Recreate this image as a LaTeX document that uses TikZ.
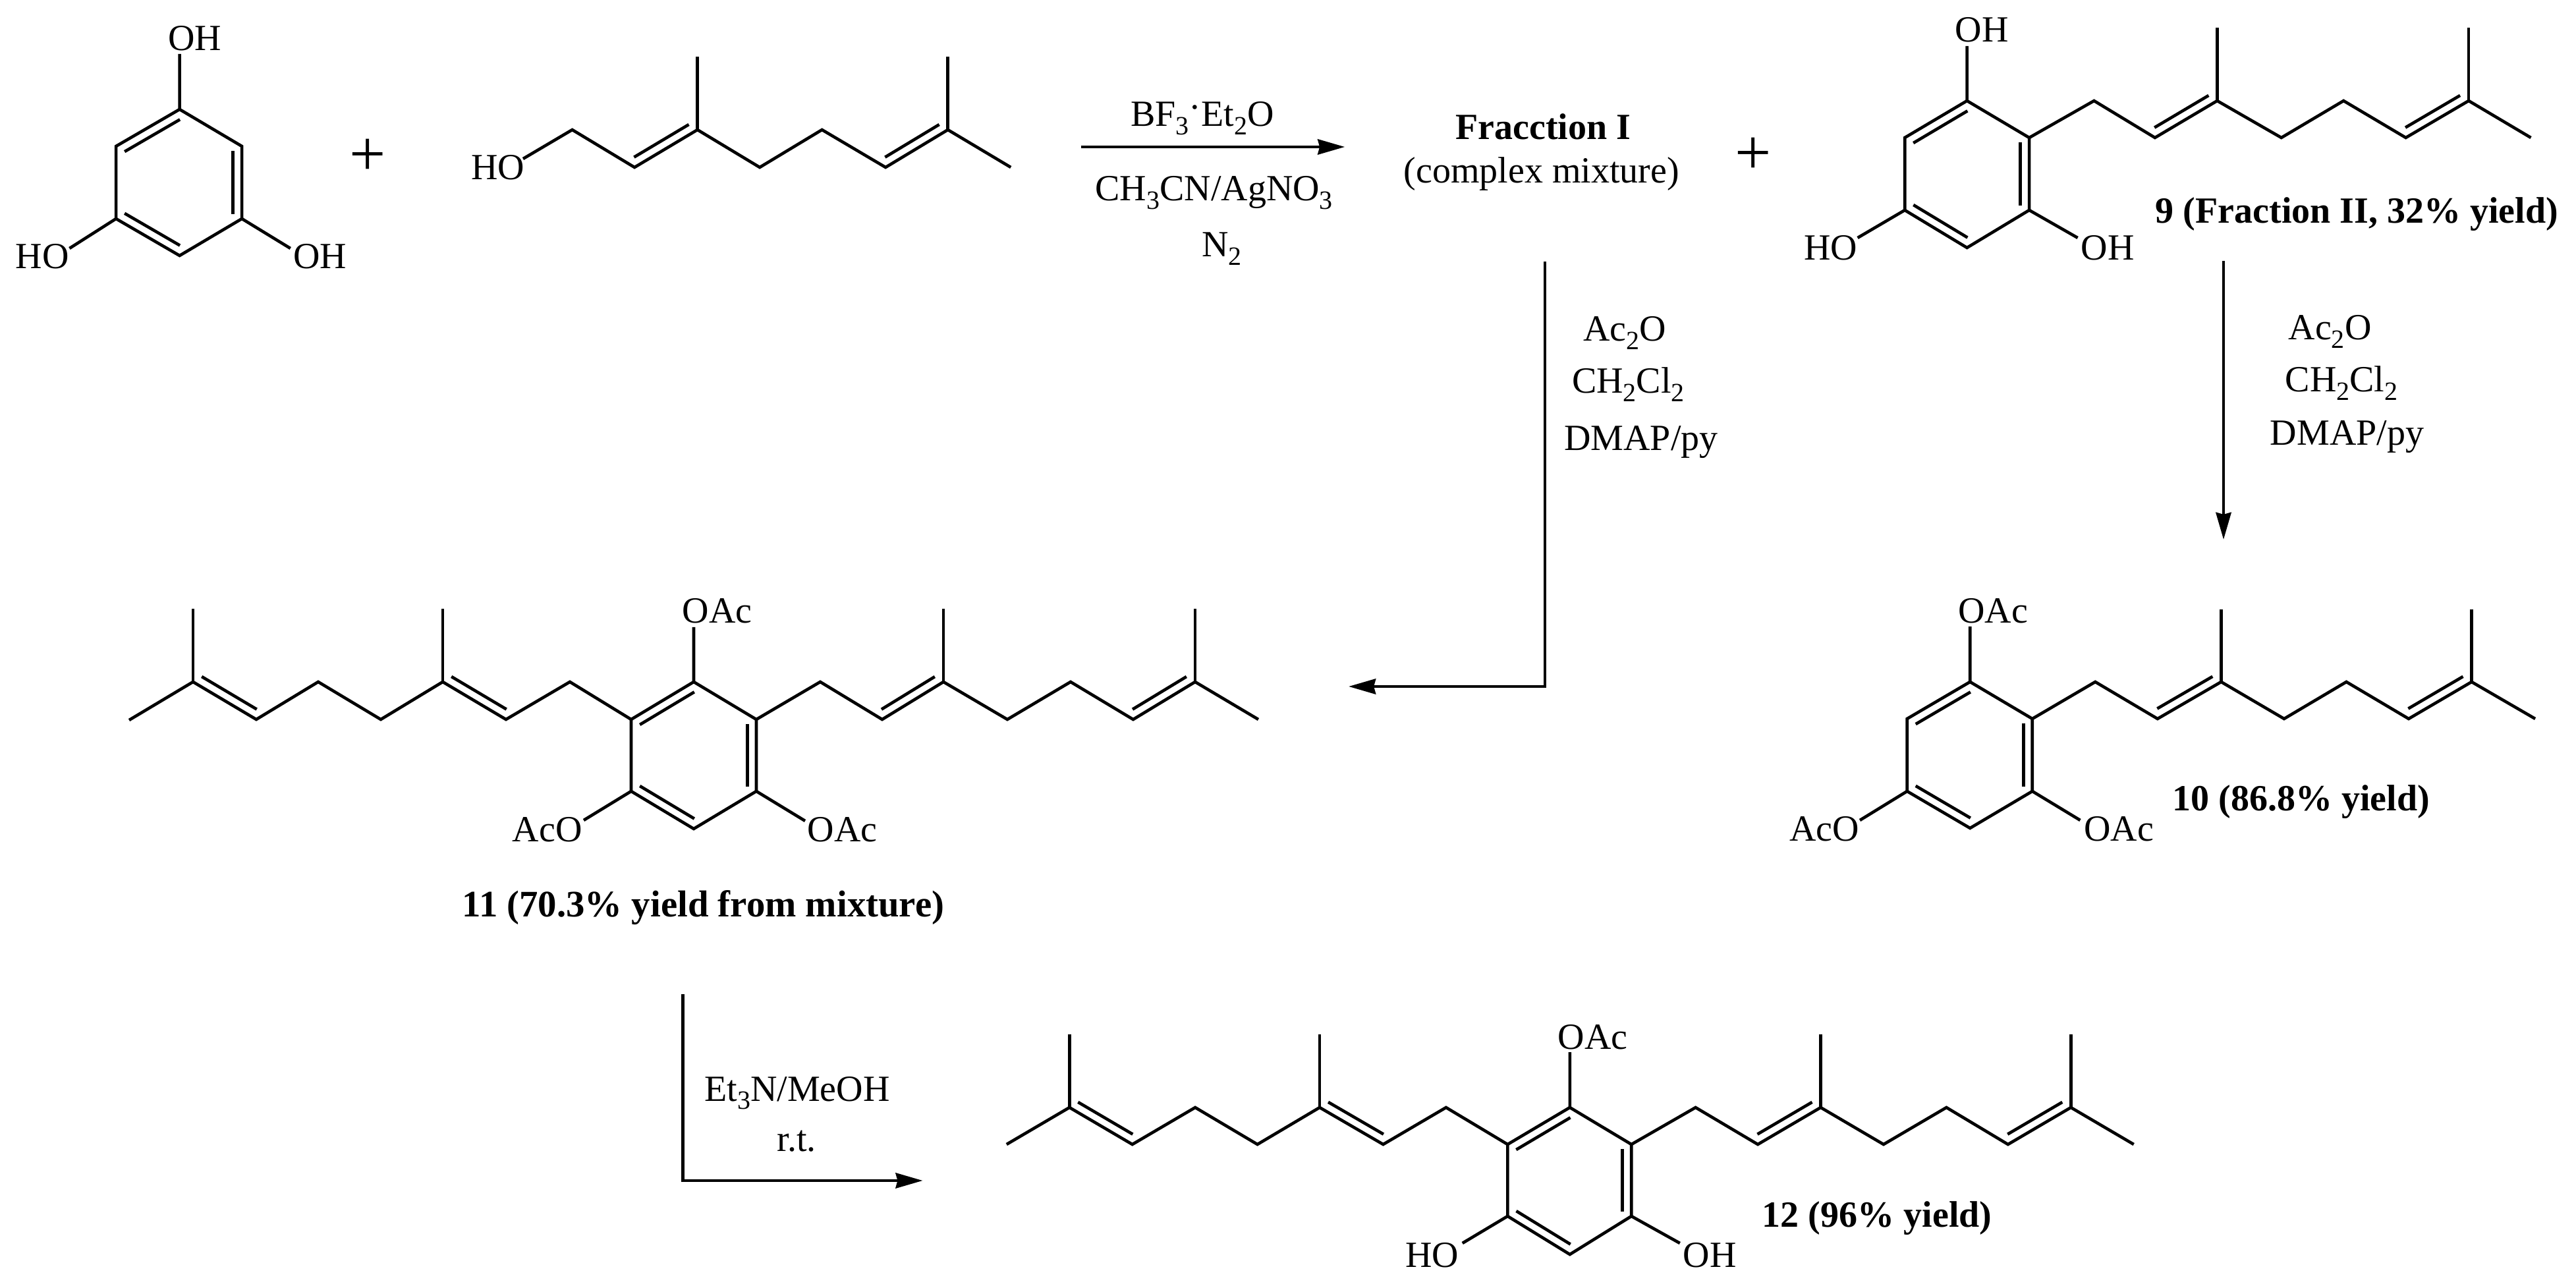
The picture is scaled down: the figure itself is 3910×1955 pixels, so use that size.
\documentclass[tikz,border=0pt]{standalone}
\usepackage{fontspec}
\setmainfont{Liberation Serif}
\usetikzlibrary{calc,arrows.meta}
\newcommand\sbs[1]{\raisebox{-.22em}{\fontsize{10}{10}\selectfont #1}}
\tikzset{
  x=.25pt,y=-.25pt,
  bond/.style={line width=1.15pt,line join=miter,miter limit=10,line cap=butt},
  rxn/.style={line width=1.2pt,-{Stealth[length=10.25pt,width=5.75pt,inset=.7pt]}},
  txt/.style={anchor=base west,inner sep=0pt,font=\fontsize{14}{16}\selectfont},
  btxt/.style={txt,font=\fontsize{14}{16}\selectfont\bfseries},
  plusn/.style={inner sep=0pt,font=\fontsize{24.5}{26}\selectfont}
}
% double-bond inner line: from, to, side angle
\newcommand\dblin[3]{\draw[bond] ($(#1)!0.065!(#2)!3.4pt!#3:(#2)$) -- ($(#2)!0.065!(#1)!3.4pt!-#3:(#1)$);}
\begin{document}
\begin{tikzpicture}
\fill[white] (0,0) rectangle (3910,1955);
\useasboundingbox (0,0) rectangle (3910,1955);

\begin{scope}[xscale=.995]
% ---------- phloroglucinol
\path (274,166) coordinate (pT) (177,222) coordinate (pUL) (369,222) coordinate (pUR)
      (177,332) coordinate (pLL) (369,332) coordinate (pLR) (274,388) coordinate (pB)
      (274,82) coordinate (pO1) (106,377) coordinate (pO2) (443,377) coordinate (pO3);
\draw[bond] (pT)--(pUR)--(pLR)--(pB)--(pLL)--(pUL)--cycle;
\draw[bond] (pT)--(pO1) (pLL)--(pO2) (pLR)--(pO3);
\dblin{pUL}{pT}{-90}\dblin{pUR}{pLR}{-90}\dblin{pB}{pLL}{-90}
\node[txt] (pOH1) at (256,77) {OH};
\node[txt] (pHO2) at (23,408) {HO};
\node[txt] (pOH3) at (447,408) {OH};
\node[plusn] (plusA) at (561,239) {+};

% ---------- geraniol
\path (798,241) coordinate (g0) (873,197) coordinate (g1) (968,254) coordinate (g2)
      (1064,197) coordinate (g3) (1159,254) coordinate (g4) (1254,197) coordinate (g5)
      (1351,254) coordinate (g6) (1446,197) coordinate (g7) (1542,254) coordinate (g8)
      (1064,86) coordinate (gm1) (1446,86) coordinate (gm2);
\draw[bond] (g0)--(g1)--(g2)--(g3)--(g4)--(g5)--(g6)--(g7)--(g8);
\draw[bond] (g3)--(gm1) (g7)--(gm2);
\dblin{g2}{g3}{90}\dblin{g6}{g7}{90}
\node[txt] (gHO) at (718,273) {HO};
\end{scope}

\begin{scope}[shift={(9.44,0)},xscale=.9941]
% ---------- first reaction
\coordinate (r1a) at (1641,223);
\coordinate (r1b) at (2044,223);
\draw[rxn] (r1a)--(r1b);
\node[txt] (r1t1) at (1716,192) {BF\sbs{3}\raisebox{.18em}{·}Et\sbs{2}O};
\node[txt] (r1t2) at (1662,305) {CH\sbs{3}CN/AgNO\sbs{3}};
\node[txt] (r1t3) at (1825,390) {N\sbs{2}};
\node[btxt] (frI) at (2212,212) {Fracction I};
\node[txt] (frIb) at (2133,278) {(complex mixture)};
\node[plusn] (plusB) at (2667,237) {+};

% ---------- compound 9
\path (2994,153) coordinate (nT) (2899,209) coordinate (nUL) (3089,209) coordinate (nUR)
      (2899,319) coordinate (nLL) (3089,319) coordinate (nLR) (2994,376) coordinate (nB)
      (2994,70) coordinate (nO1) (2827,361) coordinate (nO2) (3163,361) coordinate (nO3)
      (3188,153) coordinate (n1) (3281,209) coordinate (n2) (3376,153) coordinate (n3)
      (3474,209) coordinate (n4) (3569,153) coordinate (n5) (3664,209) coordinate (n6)
      (3760,153) coordinate (n7) (3855,209) coordinate (n8)
      (3376,42) coordinate (nm1) (3760,42) coordinate (nm2);
\draw[bond] (nT)--(nUR)--(nLR)--(nB)--(nLL)--(nUL)--cycle;
\draw[bond] (nT)--(nO1) (nLL)--(nO2) (nLR)--(nO3);
\draw[bond] (nUR)--(n1)--(n2)--(n3)--(n4)--(n5)--(n6)--(n7)--(n8);
\draw[bond] (n3)--(nm1) (n7)--(nm2);
\dblin{nUL}{nT}{-90}\dblin{nUR}{nLR}{-90}\dblin{nB}{nLL}{-90}
\dblin{n2}{n3}{90}\dblin{n6}{n7}{90}
\node[txt] (nOH1) at (2975,64) {OH};
\node[txt] (nHO2) at (2744,395) {HO};
\node[txt] (nOH3) at (3167,395) {OH};
\node[btxt] (nlab) at (3281,339) {9 (Fraction II, 32\% yield)};

% ---------- reagents
\node[txt] (r2t1) at (2407,518) {Ac\sbs{2}O};
\node[txt] (r2t2) at (2390,597) {CH\sbs{2}Cl\sbs{2}};
\node[txt] (r2t3) at (2378,684) {DMAP/py};
\node[txt] (r3t1) at (3484,516) {Ac\sbs{2}O};
\node[txt] (r3t2) at (3479,595) {CH\sbs{2}Cl\sbs{2}};
\node[txt] (r3t3) at (3456,676) {DMAP/py};
\end{scope}

% ---------- arrows
\coordinate (r2a) at (2345,397);
\coordinate (r2e) at (2345,1042);
\coordinate (r2b) at (2047,1042);
\draw[rxn,line join=miter] (r2a)--(r2e)--(r2b);
\coordinate (r3a) at (3375,396);
\coordinate (r3b) at (3375,819);
\draw[rxn] (r3a)--(r3b);

% ---------- compound 11
\path (1053,1035) coordinate (eT) (958,1092) coordinate (eUL) (1148,1092) coordinate (eUR)
      (958,1201) coordinate (eLL) (1148,1201) coordinate (eLR) (1053,1258) coordinate (eB)
      (1053,952) coordinate (eO1) (886,1245) coordinate (eO2) (1222,1246) coordinate (eO3)
      (196,1093) coordinate (l1) (293,1035) coordinate (l2) (389,1092) coordinate (l3)
      (483,1035) coordinate (l4) (578,1092) coordinate (l5) (672,1035) coordinate (l6)
      (768,1092) coordinate (l7) (865,1035) coordinate (l8)
      (293,924) coordinate (lm1) (672,924) coordinate (lm2)
      (1245,1035) coordinate (e1) (1339,1092) coordinate (e2) (1432,1035) coordinate (e3)
      (1529,1092) coordinate (e4) (1625,1035) coordinate (e5) (1720,1092) coordinate (e6)
      (1814,1035) coordinate (e7) (1910,1092) coordinate (e8)
      (1432,924) coordinate (em1) (1814,924) coordinate (em2);
\draw[bond] (eT)--(eUR)--(eLR)--(eB)--(eLL)--(eUL)--cycle;
\draw[bond] (eT)--(eO1) (eLL)--(eO2) (eLR)--(eO3);
\draw[bond] (l1)--(l2)--(l3)--(l4)--(l5)--(l6)--(l7)--(l8)--(eUL);
\draw[bond] (eUR)--(e1)--(e2)--(e3)--(e4)--(e5)--(e6)--(e7)--(e8);
\draw[bond] (l2)--(lm1) (l6)--(lm2) (e3)--(em1) (e7)--(em2);
\dblin{eUL}{eT}{-90}\dblin{eUR}{eLR}{-90}\dblin{eB}{eLL}{-90}
\dblin{l2}{l3}{90}\dblin{l6}{l7}{90}\dblin{e2}{e3}{90}\dblin{e6}{e7}{90}
\node[txt] (eOAc1) at (1035,946) {OAc};
\node[txt] (eAcO) at (777,1278) {AcO};
\node[txt] (eOAc3) at (1225,1278) {OAc};
\node[btxt,font=\fontsize{14.2}{16}\selectfont\bfseries] (elab) at (701,1392) {11 (70.3\% yield from mixture)};

\begin{scope}[shift={(12.72,0)},xscale=.9952]
% ---------- compound 10
\path (2992,1035) coordinate (tT) (2896,1091) coordinate (tUL) (3087,1091) coordinate (tUR)
      (2896,1201) coordinate (tLL) (3087,1201) coordinate (tLR) (2992,1257) coordinate (tB)
      (2992,951) coordinate (tO1) (2824,1245) coordinate (tO2) (3160,1245) coordinate (tO3)
      (3183,1035) coordinate (t1) (3278,1091) coordinate (t2) (3375,1035) coordinate (t3)
      (3471,1091) coordinate (t4) (3566,1035) coordinate (t5) (3661,1091) coordinate (t6)
      (3757,1035) coordinate (t7) (3854,1091) coordinate (t8)
      (3375,925) coordinate (tm1) (3757,925) coordinate (tm2);
\draw[bond] (tT)--(tUR)--(tLR)--(tB)--(tLL)--(tUL)--cycle;
\draw[bond] (tT)--(tO1) (tLL)--(tO2) (tLR)--(tO3);
\draw[bond] (tUR)--(t1)--(t2)--(t3)--(t4)--(t5)--(t6)--(t7)--(t8);
\draw[bond] (t3)--(tm1) (t7)--(tm2);
\dblin{tUL}{tT}{-90}\dblin{tUR}{tLR}{-90}\dblin{tB}{tLL}{-90}
\dblin{t2}{t3}{90}\dblin{t6}{t7}{90}
\node[txt] (tOAc1) at (2973,946) {OAc};
\node[txt] (tAcO) at (2716,1277) {AcO};
\node[txt] (tOAc3) at (3165,1277) {OAc};
\node[btxt] (tlab) at (3300,1231) {10 (86.8\% yield)};
\end{scope}

\begin{scope}[shift={(5.87,0)},xscale=.99413]
% ---------- last reaction
\coordinate (r4a) at (1037,1509);
\coordinate (r4e) at (1037,1792);
\coordinate (r4b) at (1403,1792);
\draw[rxn,line join=miter] (r4a)--(r4e)--(r4b);
\node[txt] (r4t1) at (1069,1671) {Et\sbs{3}N/MeOH};
\node[txt] (r4t2) at (1180,1747) {r.t.};

% ---------- compound 12
\path (2391,1681) coordinate (wT) (2296,1737) coordinate (wUL) (2485,1737) coordinate (wUR)
      (2296,1846) coordinate (wLL) (2485,1846) coordinate (wLR) (2391,1904) coordinate (wB)
      (2391,1597) coordinate (wO1) (2227,1887) coordinate (wO2) (2559,1887) coordinate (wO3)
      (1531,1737) coordinate (v1) (1627,1681) coordinate (v2) (1723,1737) coordinate (v3)
      (1819,1681) coordinate (v4) (1914,1737) coordinate (v5) (2009,1681) coordinate (v6)
      (2106,1737) coordinate (v7) (2202,1681) coordinate (v8)
      (1627,1570) coordinate (vm1) (2009,1570) coordinate (vm2)
      (2583,1681) coordinate (w1) (2678,1737) coordinate (w2) (2774,1681) coordinate (w3)
      (2870,1737) coordinate (w4) (2966,1681) coordinate (w5) (3060,1737) coordinate (w6)
      (3156,1681) coordinate (w7) (3252,1737) coordinate (w8)
      (2774,1570) coordinate (wm1) (3156,1570) coordinate (wm2);
\draw[bond] (wT)--(wUR)--(wLR)--(wB)--(wLL)--(wUL)--cycle;
\draw[bond] (wT)--(wO1) (wLL)--(wO2) (wLR)--(wO3);
\draw[bond] (v1)--(v2)--(v3)--(v4)--(v5)--(v6)--(v7)--(v8)--(wUL);
\draw[bond] (wUR)--(w1)--(w2)--(w3)--(w4)--(w5)--(w6)--(w7)--(w8);
\draw[bond] (v2)--(vm1) (v6)--(vm2) (w3)--(wm1) (w7)--(wm2);
\dblin{wUL}{wT}{-90}\dblin{wUR}{wLR}{-90}\dblin{wB}{wLL}{-90}
\dblin{v2}{v3}{90}\dblin{v6}{v7}{90}\dblin{w2}{w3}{90}\dblin{w6}{w7}{90}
\node[txt] (wOAc) at (2372,1592) {OAc};
\node[txt] (wHO) at (2139,1923) {HO};
\node[txt] (wOH) at (2563,1923) {OH};
\node[btxt] (wlab) at (2684,1862) {12 (96\% yield)};
\end{scope}
\end{tikzpicture}
\end{document}
